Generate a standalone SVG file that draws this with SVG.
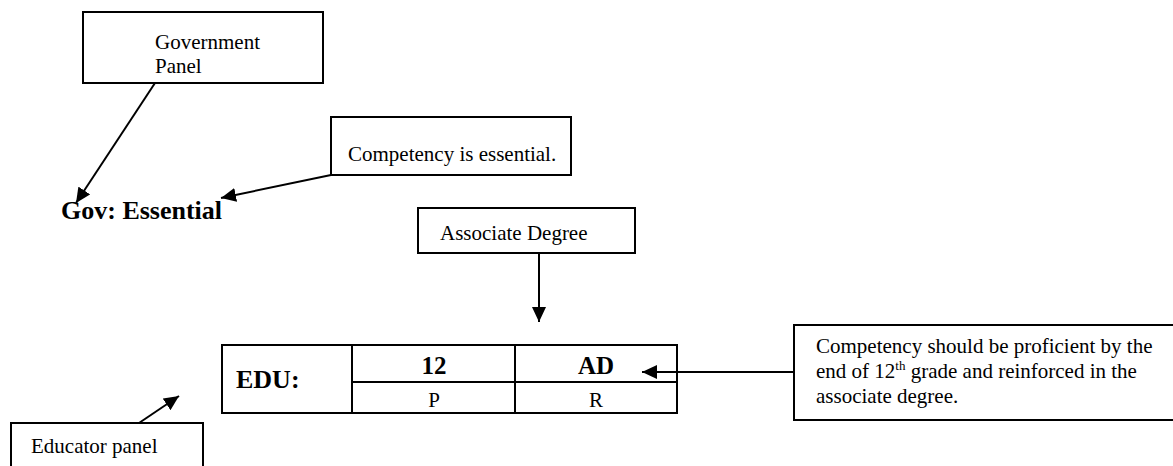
<svg xmlns="http://www.w3.org/2000/svg" width="1173" height="466" viewBox="0 0 1173 466" font-family="'Liberation Serif', 'DejaVu Serif', serif">
<style>
.box{fill:#fff;stroke:#000;stroke-width:2}
text{font-family:'Liberation Serif','DejaVu Serif',serif;font-size:21px;fill:#000}
.b{font-weight:bold}
.big{font-size:26px}
.hd{font-size:25px}
.c{text-anchor:middle}
.ln{stroke:#000;stroke-width:2;fill:none}
.sup{font-size:13px}
</style>
<defs>
<marker id="ah" markerUnits="userSpaceOnUse" markerWidth="16" markerHeight="14" refX="15" refY="7" orient="auto">
<path d="M0,0 L15,7 L0,14 z" fill="#000"/>
</marker>
</defs>
<rect width="1173" height="466" fill="#fff"/>
<g id="gov-panel">
<rect class="box" x="83" y="12" width="240" height="71"/>
<text x="155" y="49">Government</text>
<text x="155" y="73">Panel</text>
</g>
<g id="gov-essential">
<text class="b big" x="61" y="219">Gov: Essential</text>
</g>
<g id="competency-essential">
<rect class="box" x="331" y="117" width="240" height="58"/>
<text x="348" y="161">Competency is essential.</text>
</g>
<g id="associate-degree">
<rect class="box" x="418" y="208" width="217" height="45"/>
<text x="440" y="240">Associate Degree</text>
</g>
<g id="edu-table">
<rect class="box" x="222" y="345" width="455" height="68"/>
<line class="ln" x1="352" y1="345" x2="352" y2="413"/>
<line class="ln" x1="515" y1="345" x2="515" y2="413"/>
<line class="ln" x1="352" y1="382" x2="677" y2="382"/>
<text class="b big" x="236" y="388">EDU:</text>
<text class="b c hd" x="434" y="374">12</text>
<text class="b c hd" x="596" y="374">AD</text>
<text class="c" x="434" y="407">P</text>
<text class="c" x="596" y="407">R</text>
</g>
<g id="proficient-note">
<rect class="box" x="794" y="325" width="390" height="95"/>
<text x="816" y="353">Competency should be proficient by the</text>
<text x="816" y="378">end of 12<tspan class="sup" dy="-8">th</tspan><tspan dy="8"> grade and reinforced in the</tspan></text>
<text x="816" y="403">associate degree.</text>
</g>
<g id="educator-panel">
<rect class="box" x="11" y="423" width="192" height="60"/>
<text x="31" y="453">Educator panel</text>
</g>
<g id="connectors">
<line class="ln" x1="155" y1="83" x2="76" y2="203" marker-end="url(#ah)"/>
<line class="ln" x1="331" y1="175" x2="221" y2="198" marker-end="url(#ah)"/>
<line class="ln" x1="539" y1="253" x2="539" y2="322" marker-end="url(#ah)"/>
<line class="ln" x1="794" y1="372" x2="642" y2="372" marker-end="url(#ah)"/>
<line class="ln" x1="139" y1="423" x2="179" y2="396" marker-end="url(#ah)"/>
</g>
</svg>
